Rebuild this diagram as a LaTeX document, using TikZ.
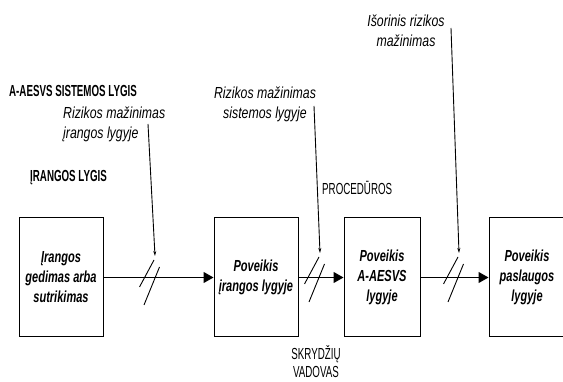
\documentclass[tikz,border=0pt]{standalone}
\usepackage{fontspec}
\setmainfont{Liberation Sans}
\newfontfamily\capsf[FakeStretch=0.61]{Liberation Sans}
\newfontfamily\itf[FakeStretch=0.77]{Liberation Sans}
\newfontfamily\boxf[FakeStretch=0.69]{Liberation Sans}
\usetikzlibrary{arrows.meta}
\begin{document}
\begin{tikzpicture}[x=1pt,y=-1pt,
 box/.style={draw,line width=1pt,minimum width=84pt,minimum height=119pt,inner sep=0pt,align=center,
   font=\boxf\bfseries\itshape\fontsize{16}{20}\selectfont},
 flow/.style={line width=1pt,-{Triangle[length=10pt,width=11pt]}},
 lead/.style={line width=0.9pt,-{Stealth[length=5pt,width=3pt]}},
 cut/.style={line width=0.9pt},
 lvl/.style={font=\capsf\bfseries\fontsize{16}{20}\selectfont,inner sep=0pt},
 capt/.style={font=\capsf\fontsize{16}{18}\selectfont,inner sep=0pt,align=center},
 note/.style={font=\itf\itshape\fontsize{16}{20}\selectfont,inner sep=0pt}]
\useasboundingbox (0,0) rectangle (563,382);
% boxes
\node[box] (b1) at (61,277.5) {Įrangos\\gedimas arba\\sutrikimas};
\node[box] (b2) at (256,277.5) {Poveikis\\įrangos lygyje};
\node[box,minimum width=76pt] (b3) at (382,277.5) {Poveikis\\A-AESVS\\lygyje};
\node[box,minimum width=76pt] (b4) at (527,277.5) {Poveikis\\paslaugos\\lygyje};
% flow arrows
\draw[flow] (b1.east) -- (b2.west);
\draw[flow] (b2.east) -- (b3.west);
\draw[flow] (b3.east) -- (b4.west);
% labels
\node[lvl,anchor=west] (l1) at (9,91) {A-AESVS SISTEMOS LYGIS};
\node[lvl,anchor=base west] (l2) at (30,182) {ĮRANGOS LYGIS};
\node[note,align=left,anchor=west] (n1) at (63,124) {Rizikos mažinimas\\įrangos lygyje};
\node[note,align=center] (n2) at (265,104) {Rizikos mažinimas\\sistemos lygyje};
\node[note,align=center] (n3) at (406,31) {Išorinis rizikos\\mažinimas};
\node[capt,anchor=base west] (p1) at (322,195) {PROCEDŪROS};
\node[capt] (p2) at (316,362) {SKRYDŽIŲ\\VADOVAS};
% leaders
\coordinate (s1) at (148,124); \coordinate (e1) at (155,256);
\coordinate (s2) at (314,106); \coordinate (e2) at (320,253);
\coordinate (s3) at (451,28);  \coordinate (e3) at (459,253);
\draw[lead] (s1) -- (e1);
\draw[lead] (s2) -- (e2);
\draw[lead] (s3) -- (e3);
% break marks
\foreach \e in {e1,e2,e3}{
  \draw[cut] ([shift={(-1,4)}]\e) -- ++(-14.5,27);
  \draw[cut] ([shift={(4.5,11)}]\e) -- ++(-15.5,38);
}
\end{tikzpicture}
\end{document}
